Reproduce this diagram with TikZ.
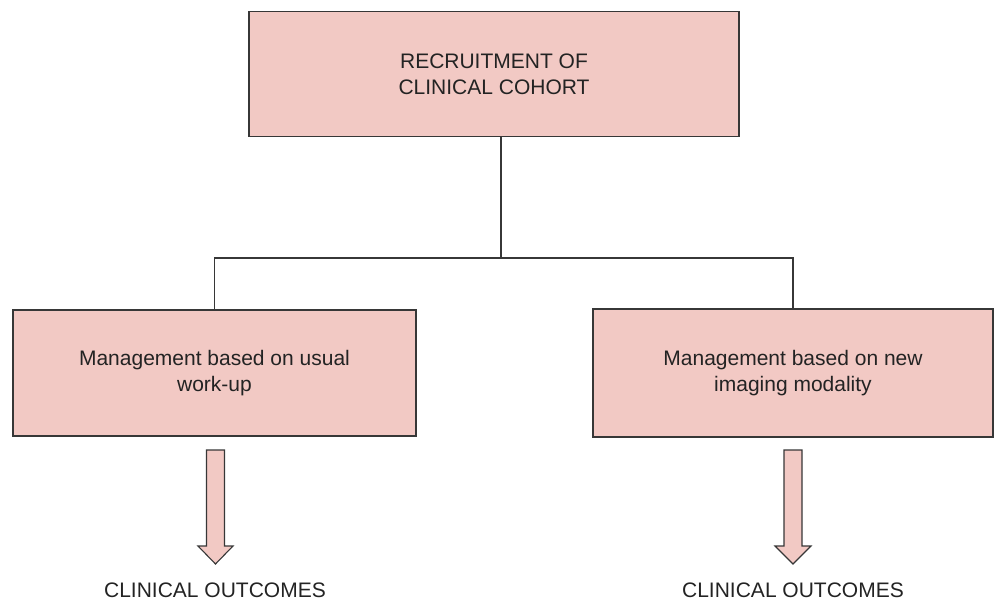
\documentclass[tikz,border=0pt]{standalone}
\usepackage{fontspec}
\setmainfont{Liberation Sans}
\definecolor{boxfill}{RGB}{242,201,196}
\definecolor{edge}{RGB}{55,55,55}
\definecolor{txt}{RGB}{35,35,35}
\begin{document}
\begin{tikzpicture}[x=1pt,y=-1pt,
  box/.style={draw=edge,fill=boxfill,line width=1.3pt,inner sep=0pt,align=center,
    font=\fontsize{21}{26}\selectfont,text=txt},
  conn/.style={draw=edge,line width=1.3pt},
  blockarrow/.style={draw=edge,fill=boxfill,line width=1.1pt,line join=miter},
  outtext/.style={font=\fontsize{21}{26}\selectfont,text=txt,inner sep=0pt,anchor=base}]
\useasboundingbox (0,0) rectangle (994,600);
\node[box,minimum width=490pt,minimum height=125pt] (top) at (494,74) {RECRUITMENT OF\\CLINICAL COHORT};
\node[box,minimum width=403pt,minimum height=126pt] (left) at (214.5,373) {Management based on usual\\work-up};
\node[box,minimum width=400pt,minimum height=128pt] (right) at (793,373) {Management based on new\\imaging modality};
\coordinate (split) at (501,258);
\draw[conn] ([xshift=7pt]top.south) -- (split);
\draw[conn] (left.north) -- (left.north |- split) -- (right.north |- split) -- (right.north);
% block arrows
\draw[blockarrow] (206.5,450) -- (224.5,450) -- (224.5,546) -- (233,546) -- (215.5,564) -- (198,546) -- (206.5,546) -- cycle;
\draw[blockarrow] (784,450) -- (802,450) -- (802,546) -- (811,546) -- (793,564) -- (775,546) -- (784,546) -- cycle;
\node[outtext] (outL) at (215,597) {CLINICAL OUTCOMES};
\node[outtext] (outR) at (793,597) {CLINICAL OUTCOMES};
\end{tikzpicture}
\end{document}
